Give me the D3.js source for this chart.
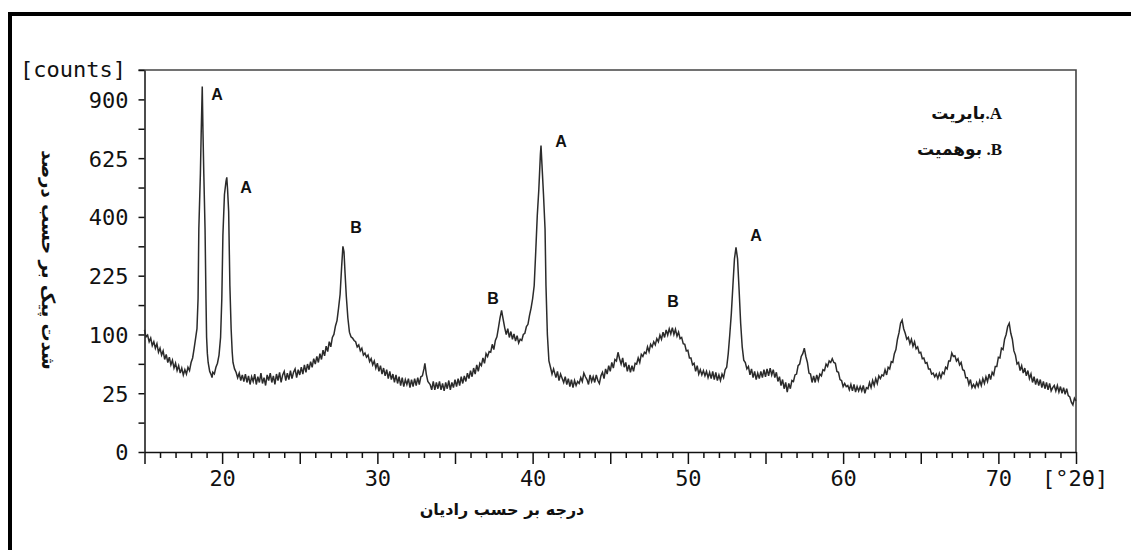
<!DOCTYPE html>
<html>
<head>
<meta charset="utf-8">
<script src="https://cdn.jsdelivr.net/npm/d3@7"></script>
<style>
  body { margin: 0; background: #fff; }
  .mono { font-family: "DejaVu Sans Mono", monospace; font-size: 22px; fill: #111; }
  .peak-label { font-family: "Liberation Sans", Arial, sans-serif; font-weight: bold; font-size: 16px; fill: #111; }
  .fa-title { font-family: "DejaVu Sans", sans-serif; font-weight: bold; font-size: 16px; fill: #111; }
  .fa-ytitle { font-family: "DejaVu Sans", sans-serif; font-weight: bold; font-size: 18px; fill: #111; }
  .legend { font-family: "Liberation Serif", "DejaVu Sans", serif; font-weight: bold; font-size: 17px; fill: #111; }
</style>
</head>
<body>
<script>
// scan: 2theta (deg) and intensity (counts)
const twoTheta = [
  15.0, 15.1, 15.2, 15.3, 15.4, 15.5, 15.6, 15.7, 15.8, 15.9,
  16.0, 16.1, 16.2, 16.3, 16.4, 16.5, 16.6, 16.7, 16.8, 16.9,
  17.0, 17.1, 17.2, 17.3, 17.4, 17.5, 17.6, 17.7, 17.8, 17.9,
  18.0, 18.1, 18.2, 18.3, 18.38, 18.45, 18.5, 18.6, 18.65, 18.72,
  18.77, 18.82, 18.9, 18.96, 19.0, 19.05, 19.1, 19.2, 19.3, 19.35,
  19.4, 19.5, 19.6, 19.7, 19.8, 19.9, 19.98, 20.05, 20.15, 20.25,
  20.3, 20.35, 20.42, 20.5, 20.58, 20.65, 20.7, 20.8, 20.9, 21.0,
  21.1, 21.2, 21.3, 21.4, 21.5, 21.6, 21.7, 21.8, 21.9, 22.0,
  22.1, 22.2, 22.3, 22.4, 22.5, 22.6, 22.7, 22.8, 22.9, 23.0,
  23.1, 23.2, 23.3, 23.4, 23.5, 23.6, 23.7, 23.8, 23.9, 24.0,
  24.1, 24.2, 24.3, 24.4, 24.5, 24.6, 24.7, 24.8, 24.9, 25.0,
  25.1, 25.2, 25.3, 25.4, 25.5, 25.6, 25.7, 25.8, 25.9, 26.0,
  26.1, 26.2, 26.3, 26.4, 26.5, 26.6, 26.7, 26.8, 26.9, 27.0,
  27.1, 27.2, 27.3, 27.4, 27.5, 27.6, 27.7, 27.78, 27.85, 27.92,
  28.0, 28.1, 28.2, 28.3, 28.4, 28.5, 28.6, 28.7, 28.8, 28.9,
  29.0, 29.1, 29.2, 29.3, 29.4, 29.5, 29.6, 29.7, 29.8, 29.9,
  30.0, 30.1, 30.2, 30.3, 30.4, 30.5, 30.6, 30.7, 30.8, 30.9,
  31.0, 31.1, 31.2, 31.3, 31.4, 31.5, 31.6, 31.7, 31.8, 31.9,
  32.0, 32.1, 32.2, 32.3, 32.4, 32.5, 32.6, 32.7, 32.8, 32.9,
  33.0, 33.06, 33.15, 33.25, 33.4, 33.5, 33.6, 33.7, 33.8, 33.9,
  34.0, 34.1, 34.2, 34.3, 34.4, 34.5, 34.6, 34.7, 34.8, 34.9,
  35.0, 35.1, 35.2, 35.3, 35.4, 35.5, 35.6, 35.7, 35.8, 35.9,
  36.0, 36.1, 36.2, 36.3, 36.4, 36.5, 36.6, 36.7, 36.8, 36.9,
  37.0, 37.1, 37.2, 37.3, 37.4, 37.5, 37.6, 37.7, 37.8, 37.9,
  38.0, 38.1, 38.2, 38.3, 38.4, 38.5, 38.6, 38.7, 38.8, 38.9,
  39.0, 39.1, 39.2, 39.3, 39.4, 39.5, 39.6, 39.7, 39.8, 39.9,
  40.0, 40.1, 40.2, 40.3, 40.4, 40.5, 40.54, 40.6, 40.7, 40.8,
  40.86, 40.95, 41.05, 41.15, 41.25, 41.35, 41.5, 41.6, 41.7, 41.8,
  42.0, 42.1, 42.2, 42.3, 42.4, 42.5, 42.6, 42.7, 42.8, 42.9,
  43.0, 43.1, 43.2, 43.3, 43.4, 43.5, 43.6, 43.7, 43.8, 43.9,
  44.0, 44.1, 44.2, 44.3, 44.4, 44.5, 44.6, 44.7, 44.8, 44.9,
  45.0, 45.1, 45.2, 45.3, 45.4, 45.5, 45.6, 45.7, 45.8, 45.9,
  46.0, 46.1, 46.2, 46.3, 46.4, 46.5, 46.6, 46.7, 46.8, 46.9,
  47.0, 47.1, 47.2, 47.3, 47.4, 47.5, 47.6, 47.7, 47.8, 47.9,
  48.0, 48.1, 48.2, 48.3, 48.4, 48.5, 48.6, 48.7, 48.8, 48.9,
  49.0, 49.1, 49.2, 49.3, 49.4, 49.5, 49.6, 49.7, 49.8, 49.9,
  50.0, 50.1, 50.2, 50.3, 50.4, 50.5, 50.6, 50.7, 50.8, 50.9,
  51.0, 51.1, 51.2, 51.3, 51.4, 51.5, 51.6, 51.7, 51.8, 51.9,
  52.0, 52.1, 52.2, 52.3, 52.4, 52.5, 52.6, 52.7, 52.8, 52.9,
  53.0, 53.1, 53.2, 53.3, 53.4, 53.5, 53.6, 53.7, 53.8, 53.9,
  54.0, 54.1, 54.2, 54.3, 54.4, 54.5, 54.6, 54.7, 54.8, 54.9,
  55.0, 55.1, 55.2, 55.3, 55.4, 55.5, 55.6, 55.7, 55.8, 55.9,
  56.0, 56.1, 56.2, 56.3, 56.4, 56.5, 56.6, 56.7, 56.8, 56.9,
  57.0, 57.1, 57.2, 57.3, 57.4, 57.5, 57.6, 57.7, 57.8, 57.9,
  58.0, 58.1, 58.2, 58.3, 58.4, 58.5, 58.6, 58.7, 58.8, 58.9,
  59.0, 59.1, 59.2, 59.3, 59.4, 59.5, 59.6, 59.7, 59.8, 59.9,
  60.0, 60.1, 60.2, 60.3, 60.4, 60.5, 60.6, 60.7, 60.8, 60.9,
  61.0, 61.1, 61.2, 61.3, 61.4, 61.5, 61.6, 61.7, 61.8, 61.9,
  62.0, 62.1, 62.2, 62.3, 62.4, 62.5, 62.6, 62.7, 62.8, 62.9,
  63.0, 63.1, 63.2, 63.3, 63.4, 63.5, 63.6, 63.7, 63.8, 63.9,
  64.0, 64.1, 64.2, 64.3, 64.4, 64.5, 64.6, 64.7, 64.8, 64.9,
  65.0, 65.1, 65.2, 65.3, 65.4, 65.5, 65.6, 65.7, 65.8, 65.9,
  66.0, 66.1, 66.2, 66.3, 66.4, 66.5, 66.6, 66.7, 66.8, 66.9,
  67.0, 67.1, 67.2, 67.3, 67.4, 67.5, 67.6, 67.7, 67.8, 67.9,
  68.0, 68.1, 68.2, 68.3, 68.4, 68.5, 68.6, 68.7, 68.8, 68.9,
  69.0, 69.1, 69.2, 69.3, 69.4, 69.5, 69.6, 69.7, 69.8, 69.9,
  70.0, 70.1, 70.2, 70.3, 70.4, 70.5, 70.6, 70.7, 70.8, 70.9,
  71.0, 71.1, 71.2, 71.3, 71.4, 71.5, 71.6, 71.7, 71.8, 71.9,
  72.0, 72.1, 72.2, 72.3, 72.4, 72.5, 72.6, 72.7, 72.8, 72.9,
  73.0, 73.1, 73.2, 73.3, 73.4, 73.5, 73.6, 73.7, 73.8, 73.9,
  74.0, 74.1, 74.2, 74.3, 74.4, 74.5, 74.6, 74.7, 74.8, 74.9,
  75.0
];

const counts = [
  108, 96, 99, 88, 94, 82, 88, 78, 85, 72,
  78, 68, 74, 62, 69, 58, 65, 55, 61, 51,
  57, 48, 54, 45, 51, 43, 49, 44, 52, 48,
  58, 64, 78, 95, 110, 170, 360, 560, 730, 967,
  730, 560, 360, 170, 95, 70, 58, 47, 43, 40,
  46, 44, 52, 57, 68, 95, 170, 340, 480, 530,
  546, 500, 420, 200, 110, 72, 58, 50, 46, 40,
  45, 37, 43, 36, 44, 35, 42, 33, 41, 36,
  44, 33, 41, 35, 45, 34, 40, 32, 43, 37,
  45, 35, 42, 33, 44, 37, 46, 35, 43, 47,
  37, 45, 38, 48, 39, 46, 50, 40, 49, 43,
  52, 44, 55, 46, 56, 49, 59, 52, 63, 56,
  66, 58, 70, 62, 75, 67, 81, 73, 88, 80,
  95, 100, 115, 125, 150, 180, 250, 306, 290, 230,
  175, 130, 104, 96, 94, 90, 88, 80, 83, 74,
  78, 68, 71, 65, 68, 59, 63, 55, 60, 51,
  57, 47, 54, 44, 51, 42, 49, 39, 47, 38,
  44, 35, 43, 34, 41, 32, 40, 31, 38, 33,
  39, 30, 38, 31, 39, 32, 40, 33, 41, 42,
  50, 57, 44, 36, 33, 28, 36, 28, 35, 29,
  36, 28, 34, 27, 35, 29, 37, 28, 35, 30,
  38, 31, 39, 32, 41, 34, 42, 36, 45, 39,
  48, 41, 51, 44, 55, 47, 57, 54, 64, 57,
  70, 66, 73, 72, 84, 76, 90, 96, 112, 130,
  145, 128, 112, 100, 110, 95, 105, 92, 101, 89,
  98, 86, 92, 90, 100, 102, 114, 118, 135, 150,
  170, 200, 290, 405, 500, 640, 680, 600, 480, 360,
  200, 100, 60, 52, 44, 50, 40, 47, 37, 44,
  35, 41, 33, 39, 31, 38, 30, 37, 32, 36,
  34, 40, 36, 45, 41, 38, 33, 43, 36, 41,
  35, 43, 37, 34, 42, 46, 39, 50, 44, 54,
  47, 58, 51, 62, 60, 72, 63, 56, 64, 52,
  58, 47, 55, 46, 54, 47, 57, 56, 64, 58,
  69, 66, 72, 70, 80, 73, 84, 80, 88, 83,
  93, 88, 99, 92, 104, 95, 108, 99, 110, 101,
  112, 100, 109, 97, 104, 93, 95, 85, 84, 74,
  75, 64, 64, 55, 57, 47, 54, 44, 49, 43,
  48, 42, 47, 40, 46, 39, 47, 38, 46, 37,
  43, 37, 44, 40, 49, 52, 70, 100, 139, 200,
  270, 303, 270, 190, 120, 80, 61, 58, 50, 53,
  43, 50, 40, 47, 38, 45, 39, 47, 40, 49,
  41, 50, 42, 51, 43, 49, 40, 46, 36, 41,
  32, 38, 29, 35, 26, 34, 29, 37, 36, 43,
  44, 54, 56, 66, 70, 78, 66, 58, 45, 44,
  35, 42, 35, 43, 37, 44, 42, 49, 48, 56,
  53, 60, 58, 63, 58, 57, 47, 46, 38, 37,
  31, 34, 31, 32, 28, 33, 27, 33, 26, 31,
  27, 31, 27, 32, 25, 30, 29, 35, 30, 37,
  32, 39, 34, 42, 39, 43, 42, 49, 43, 52,
  50, 59, 58, 70, 76, 92, 103, 120, 126, 110,
  102, 92, 95, 85, 92, 81, 88, 77, 80, 71,
  72, 63, 64, 57, 58, 50, 50, 44, 45, 41,
  44, 39, 45, 40, 46, 44, 52, 50, 60, 60,
  71, 66, 67, 60, 63, 55, 58, 49, 48, 40,
  40, 33, 38, 30, 33, 30, 35, 31, 37, 32,
  39, 34, 41, 36, 44, 38, 46, 43, 53, 53,
  65, 64, 78, 76, 92, 100, 114, 120, 102, 92,
  74, 68, 56, 58, 48, 54, 45, 51, 42, 48,
  39, 44, 35, 41, 33, 39, 32, 38, 30, 36,
  29, 35, 28, 34, 27, 30, 32, 27, 32, 26,
  31, 25, 30, 24, 29, 23, 22, 18, 16, 21,
  19
];

const yTickValues = [0, 25, 100, 225, 400, 625, 900];
const yMinorValues = [6.25, 56.25, 156.25, 306.25, 506.25, 756.25, 1056.25];
const xTickLabels = [20, 30, 40, 50, 60, 70];

const peakLetters = ["A", "A", "B", "B", "A", "B", "A"];
const peakLabelTheta = [19.67, 21.54, 28.62, 37.45, 41.83, 49.04, 54.39];
const peakLabelCounts = [928, 508, 366, 172, 700, 165, 341];

const legendItems = ["A.بایریت", "B. بوهمیت"];
const xTitle = "درجه بر حسب رادیان";
const yTitle = "شدت پیک بر حسب درصد";

const width = 1131;
const height = 550;

const svg = d3.select("body").append("svg")
  .attr("width", width)
  .attr("height", height);

// outer border (top and left only)
svg.append("path")
  .attr("d", `M10,${height} V14 H${width}`)
  .attr("fill", "none")
  .attr("stroke", "#000")
  .attr("stroke-width", 4);

const x = d3.scaleLinear().domain([15, 75]).range([144.5, 1076]);
const y = d3.scaleSqrt().domain([0, 1056.25]).range([452, 70]);

// frame top + right
svg.append("path")
  .attr("d", `M${x(15) - 6},${y(1056.25)} H${x(75)} V${y(0)}`)
  .attr("fill", "none")
  .attr("stroke", "#444")
  .attr("stroke-width", 1.6);

// y axis
const yAxis = svg.append("g")
  .attr("transform", `translate(${x(15)},0)`)
  .call(d3.axisLeft(y)
    .tickValues(yTickValues.concat(yMinorValues))
    .tickSize(6)
    .tickSizeOuter(0)
    .tickFormat((d) => (yTickValues.includes(d) ? d : "")));

yAxis.attr("font-family", null).attr("font-size", null);
yAxis.select(".domain").attr("stroke", "#111").attr("stroke-width", 1.5);
yAxis.selectAll(".tick line").attr("stroke", "#111").attr("stroke-width", 1.5);
yAxis.selectAll(".tick text")
  .attr("class", "mono")
  .attr("x", -16)
  .attr("dy", "0.36em");

// x axis: minor every degree, longer every 5
const xAxis = svg.append("g")
  .attr("transform", `translate(0,${y(0)})`)
  .call(d3.axisBottom(x)
    .tickValues(d3.range(15, 76, 1))
    .tickSizeOuter(0)
    .tickFormat((d) => (xTickLabels.includes(d) ? d : "")));

xAxis.attr("font-family", null).attr("font-size", null);
xAxis.select(".domain").attr("stroke", "#111").attr("stroke-width", 1.5);
xAxis.selectAll(".tick line")
  .attr("stroke", "#111")
  .attr("stroke-width", 1.5)
  .attr("y2", (d) => (d % 5 === 0 ? 12 : 6));
xAxis.selectAll(".tick text")
  .attr("class", "mono")
  .attr("y", 34)
  .attr("dy", null);

svg.append("text")
  .attr("class", "mono")
  .attr("x", 20)
  .attr("y", 77)
  .text("[counts]");

svg.append("text")
  .attr("class", "mono")
  .attr("x", 1042)
  .attr("y", 486)
  .text("[°2θ]");

// scan trace
const scan = twoTheta.map((t, i) => ({ t, c: counts[i] }));

svg.append("path")
  .datum(scan)
  .attr("fill", "none")
  .attr("stroke", "#2b2b2b")
  .attr("stroke-width", 1.5)
  .attr("d", d3.line().x((d) => x(d.t)).y((d) => y(d.c)));

// peak letters
svg.selectAll(".peak-label")
  .data(peakLetters)
  .enter()
  .append("text")
  .attr("class", "peak-label")
  .attr("text-anchor", "middle")
  .attr("x", (d, i) => x(peakLabelTheta[i]))
  .attr("y", (d, i) => y(peakLabelCounts[i]))
  .attr("dy", "0.36em")
  .text((d) => d);

// legend (right to left)
svg.selectAll(".legend")
  .data(legendItems)
  .enter()
  .append("text")
  .attr("class", "legend")
  .attr("direction", "rtl")
  .attr("text-anchor", "start")
  .attr("x", 1002)
  .attr("y", (d, i) => 119 + i * 36)
  .text((d) => d);

// axis titles
svg.append("text")
  .attr("class", "fa-title")
  .attr("text-anchor", "middle")
  .attr("x", 502)
  .attr("y", 515)
  .text(xTitle);

svg.append("text")
  .attr("class", "fa-ytitle")
  .attr("text-anchor", "middle")
  .attr("transform", "translate(42,260) rotate(90)")
  .text(yTitle);
</script>
</body>
</html>
